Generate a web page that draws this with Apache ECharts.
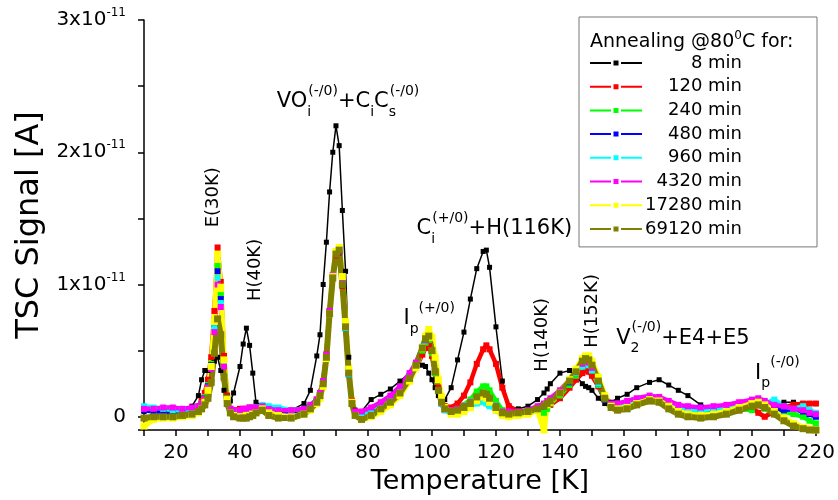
<!DOCTYPE html>
<html><head><meta charset="utf-8">
<script src="https://cdn.jsdelivr.net/npm/echarts@6/dist/echarts.min.js"></script>
<style>html,body{margin:0;padding:0;background:#fff}#c{width:838px;height:500px}</style>
</head><body><div id="c"></div>
<script>
// Temperature grid [K]
const temperatures = [
 10,13,16,19,22,25,27,28,29,30,
 31,32,33,34,35,36,37,38,40,41,
 42,43,44,45,47,49,52,56,60,62,
 64,65,66,67,68,69,70,71,72,73,
 74,75,76,78,81,84,87,90,93,95,
 97,98,99,100,101,102,103,104,106,108,
 110,112,114,116,117,118,120,122,124,127,
 130,133,135,136,137,140,143,145,147,148,
 149,150,152,154,156,158,161,164,168,171,
 174,177,180,184,188,192,196,200,202,204,
 207,210,213,216,218,220];

// TSC signal in units of 1e-12 A (pA)
const s8 = [
 0.4,0.5,0.4,0.5,0.6,0.8,1.6,2.8,3.5,3.5,
 3.6,4.2,4.5,3.5,2.0,1.3,1.2,1.8,3.8,5.5,
 6.7,5.4,3.3,1.1,0.8,0.6,0.6,0.5,1.0,2.0,
 4.6,6.2,10.0,13.2,17.0,20.0,22.0,20.5,15.6,11.0,
 4.5,1.0,0.5,0.4,1.3,1.7,2.1,2.7,3.3,3.7,
 3.9,3.8,3.3,2.8,2.2,1.6,1.3,1.3,2.2,4.3,
 6.4,8.9,11.2,12.5,12.6,11.3,6.8,2.7,0.8,0.6,
 0.8,1.3,1.8,2.1,2.5,3.3,3.5,3.1,2.5,2.3,
 2.2,2.0,1.4,1.0,1.1,1.4,1.7,2.2,2.6,2.8,
 2.4,2.0,1.6,0.9,0.5,0.5,0.6,0.8,0.9,0.9,
 1.0,1.1,1.1,1.0,1.0,1.0];
const s120 = [
 0.5,0.5,0.5,0.5,0.5,0.6,0.8,1.2,1.8,2.8,
 4.5,8.0,12.8,10.2,4.6,1.6,0.6,0.5,0.6,0.6,
 0.6,0.7,0.6,0.6,0.7,0.5,0.3,0.3,0.5,0.8,
 1.3,1.8,2.7,4.7,8.0,10.6,12.2,12.4,9.9,6.8,
 3.4,1.2,0.4,0.3,0.5,0.9,1.4,2.0,2.9,3.7,
 4.7,5.2,5.4,4.6,3.4,2.2,1.3,0.8,0.7,1.0,
 1.6,2.6,4.0,5.1,5.4,5.1,4.0,2.2,0.8,0.4,
 0.4,0.5,0.6,0.8,0.9,1.4,2.2,2.8,3.3,3.5,
 3.4,3.1,2.3,1.3,0.8,0.7,0.8,1.1,1.4,1.3,
 0.9,0.5,0.4,0.3,0.3,0.4,0.5,0.7,0.3,0.0,
 0.4,0.7,0.9,1.0,1.0,1.0];
const s240 = [
 0.6,0.5,0.5,0.4,0.5,0.6,0.7,1.0,1.5,2.4,
 4.0,7.2,11.4,9.2,4.2,1.4,0.5,0.4,0.4,0.4,
 0.5,0.5,0.6,0.6,0.8,0.5,0.3,0.3,0.5,0.8,
 1.2,1.7,2.6,4.6,7.9,10.6,12.3,12.5,10.0,6.8,
 3.3,1.1,0.3,0.2,0.4,0.8,1.3,2.0,3.0,3.9,
 5.0,5.6,5.8,4.8,3.3,2.0,1.1,0.6,0.5,0.6,
 0.9,1.3,1.9,2.3,2.3,2.0,1.2,0.5,0.3,0.3,
 0.4,0.5,0.3,0.6,1.0,1.6,2.4,3.1,3.8,4.0,
 3.9,3.5,2.4,1.3,0.8,0.6,0.8,1.1,1.4,1.3,
 0.9,0.5,0.3,0.2,0.3,0.4,0.6,0.5,1.3,0.6,
 0.5,0.4,0.2,0.0,-0.3,-0.5];
const s480 = [
 0.5,0.4,0.4,0.3,0.4,0.5,0.6,0.9,1.4,2.3,
 3.9,7.0,11.0,8.9,4.0,1.3,0.4,0.3,0.3,0.3,
 0.4,0.4,0.5,0.5,0.8,0.5,0.3,0.3,0.5,0.8,
 1.2,1.7,2.6,4.6,7.9,10.6,12.4,12.5,10.0,6.7,
 3.2,1.0,0.2,0.1,0.4,0.8,1.3,2.0,3.1,4.0,
 5.2,5.8,6.0,5.0,3.4,2.0,1.0,0.5,0.3,0.4,
 0.6,0.8,1.1,1.2,1.1,0.9,0.5,0.3,0.2,0.3,
 0.4,0.6,0.8,1.0,1.2,1.8,2.6,3.3,3.9,4.1,
 4.0,3.6,2.5,1.3,0.8,0.6,0.8,1.1,1.4,1.3,
 0.9,0.5,0.5,0.7,0.5,0.5,0.6,0.8,1.0,0.8,
 0.6,0.5,0.6,0.4,0.2,0.0];
const s960 = [
 0.8,0.7,0.6,0.5,0.5,0.6,0.7,0.9,1.3,2.2,
 3.7,6.7,10.5,8.6,3.9,1.3,0.5,0.4,0.4,0.4,
 0.5,0.6,0.7,0.7,0.9,0.8,0.7,0.5,0.6,0.9,
 1.2,1.7,2.6,4.6,7.9,10.7,12.4,12.6,10.0,6.7,
 3.2,1.0,0.2,0.1,0.4,0.8,1.3,2.0,3.1,4.0,
 5.3,5.9,6.1,5.0,3.4,2.0,1.0,0.5,0.3,0.4,
 0.6,0.8,1.0,1.1,1.0,0.8,0.5,0.3,0.3,0.3,
 0.4,0.6,0.8,1.0,1.2,1.9,2.7,3.3,3.8,4.0,
 3.9,3.5,2.5,1.4,0.9,0.8,1.0,1.3,1.5,1.4,
 1.0,0.7,0.5,0.5,0.6,0.6,0.8,0.9,1.1,1.0,
 1.3,0.8,0.6,0.8,0.5,0.3];
const s4320 = [
 0.6,0.6,0.7,0.7,0.6,0.7,0.8,1.0,1.4,2.2,
 3.6,6.4,10.0,8.3,3.8,1.3,0.6,0.5,0.5,0.6,
 0.6,0.7,0.7,0.7,0.8,0.6,0.5,0.5,0.6,0.9,
 1.3,1.8,2.7,4.7,8.0,10.7,12.4,12.6,10.1,6.8,
 3.3,1.1,0.4,0.4,0.7,1.1,1.6,2.3,3.3,4.1,
 5.2,5.8,6.0,5.0,3.4,2.0,1.1,0.6,0.5,0.6,
 0.8,1.1,1.5,1.8,1.7,1.4,0.8,0.4,0.4,0.4,
 0.5,0.8,1.0,1.2,1.4,2.0,2.8,3.5,4.0,4.2,
 4.1,3.7,2.7,1.5,1.0,1.0,1.2,1.4,1.6,1.5,
 1.2,0.9,0.8,0.7,0.8,0.9,1.1,1.3,1.4,1.2,
 0.9,0.8,0.6,0.5,0.3,0.2];
const s17280 = [
 -0.7,-0.2,-0.1,-0.1,0.0,0.1,0.3,0.6,1.1,2.0,
 3.8,7.2,12.3,9.8,4.3,1.3,0.3,0.1,0.0,0.0,
 0.1,0.1,0.2,0.3,0.6,0.3,0.1,0.0,0.2,0.5,
 1.0,1.4,2.3,4.4,7.8,10.6,12.5,12.8,10.6,7.2,
 3.6,1.1,0.1,-0.2,0.0,0.4,0.9,1.6,2.7,3.7,
 5.2,6.1,6.6,6.0,4.5,2.8,1.5,0.7,0.2,0.2,
 0.4,0.7,1.2,1.5,1.4,1.1,0.5,0.1,0.0,0.1,
 0.2,0.5,-1.0,0.9,1.1,1.8,2.8,3.6,4.4,4.6,
 4.6,4.2,3.0,1.6,0.8,0.6,0.7,1.0,1.3,1.2,
 0.8,0.4,0.2,0.1,0.2,0.4,0.7,1.0,1.1,0.9,
 0.4,-0.1,-0.5,-0.8,-0.9,-1.0];
const s69120 = [
 -0.1,0.0,0.0,0.0,0.1,0.2,0.4,0.6,0.9,1.4,
 2.6,4.8,7.4,6.2,3.0,1.0,0.3,0.0,-0.1,-0.1,
 -0.1,0.0,0.1,0.3,0.5,0.1,-0.1,-0.1,0.2,0.6,
 1.1,1.6,2.5,4.5,7.8,10.5,12.3,12.6,10.0,6.8,
 3.3,1.0,0.1,-0.2,0.1,0.6,1.1,1.8,2.9,3.9,
 5.2,5.9,6.1,5.0,3.4,2.0,1.1,0.6,0.4,0.5,
 0.7,1.0,1.5,1.8,1.7,1.4,0.7,0.3,0.2,0.3,
 0.4,0.6,0.8,1.0,1.2,1.8,2.7,3.4,4.2,4.4,
 4.3,3.9,2.7,1.4,0.7,0.5,0.6,0.9,1.2,1.1,
 0.6,0.2,0.0,-0.1,0.0,0.2,0.5,0.8,0.9,0.7,
 0.2,-0.3,-0.7,-0.9,-1.0,-1.0];

const seriesNames = ['8 min','120 min','240 min','480 min','960 min','4320 min','17280 min','69120 min'];
const seriesValues = [s8, s120, s240, s480, s960, s4320, s17280, s69120];
const seriesColors = ['#000000','#ff0000','#00ff00','#0000ff','#00ffff','#ff00ff','#ffff00','#808000'];
const yTickMantissa = {0:'0', 10:'1', 20:'2', 30:'3'};

const FONT = 'DejaVu Sans';
const chart = echarts.init(document.getElementById('c'));

const lineWidths = [1.5, 4.5, 4.5, 4.5, 4.5, 4.5, 5.5, 6];
const symbolSizes = [5, 6, 6, 6, 6, 6, 7, 7];

const option = {
  animation: false,
  backgroundColor: '#fff',
  grid: {left: 144, right: 20, top: 20, bottom: 67},
  title: {
    text: '{a|Annealing @80}{s|0}{a|C for:}',
    left: 590, top: 30, padding: 0,
    textStyle: {fontWeight: 'normal', rich: {
      a: {fontFamily: FONT, fontSize: 19, fontWeight: 'normal', color: '#000'},
      s: {fontFamily: FONT, fontSize: 12, fontWeight: 'normal', color: '#000', padding: [0, 0, 12, 0]}
    }}
  },
  legend: {
    orient: 'vertical', left: 579, top: 17,
    padding: [37, 75, 9, 11], itemGap: 5.7,
    itemWidth: 52, itemHeight: 5,
    icon: 'path://M0,1.5h21v2h-21z M23.5,0h5v5h-5z M31,1.5h21v2h-21z',
    backgroundColor: '#fff', borderColor: '#777', borderWidth: 1,
    itemStyle: {borderWidth: 0},
    formatter: n => '{r|' + n + '}',
    textStyle: {rich: {r: {fontFamily: FONT, fontSize: 18, color: '#000', width: 95, align: 'right', lineHeight: 17}}},
    selectedMode: false,
    data: seriesNames
  },
  xAxis: {
    type: 'value', min: 10, max: 220, interval: 10,
    axisLine: {onZero: false, lineStyle: {color: '#000', width: 1.5}},
    axisTick: {length: 6, lineStyle: {color: '#000', width: 1.5}},
    axisLabel: {margin: 13, color: '#000', fontFamily: FONT, fontSize: 20,
      formatter: v => (v % 20 === 0 ? String(v) : '')},
    splitLine: {show: false},
    name: 'Temperature [K]', nameLocation: 'middle', nameGap: 38,
    nameTextStyle: {fontFamily: FONT, fontSize: 27, color: '#000'}
  },
  yAxis: {
    type: 'value', min: -1, max: 30, splitNumber: 6,
    axisLine: {show: true, lineStyle: {color: '#000', width: 1.5}},
    axisTick: {show: true, length: 6, lineStyle: {color: '#000', width: 1.5}},
    axisLabel: {margin: 18, color: '#000',
      formatter: v => {
        const m = yTickMantissa[v];
        if (m === undefined) return '';
        return v === 0 ? '{a|0}' : '{a|' + m + 'x10}{s|-11}';
      },
      rich: {
        a: {fontFamily: FONT, fontSize: 20, color: '#000'},
        s: {fontFamily: FONT, fontSize: 12, color: '#000', padding: [0, 0, 14, 0]}
      }
    },
    splitLine: {show: false},
    name: 'TSC Signal [A]', nameLocation: 'middle', nameGap: 98,
    nameTextStyle: {fontFamily: FONT, fontSize: 32, color: '#000'}
  },
  series: seriesNames.map((name, i) => ({
    name, type: 'line',
    data: temperatures.map((t, k) => [t, seriesValues[i][k]]),
    symbol: 'rect',
    symbolSize: symbolSizes[i],
    showAllSymbol: true,
    lineStyle: {color: seriesColors[i], width: lineWidths[i]},
    itemStyle: {color: seriesColors[i], borderWidth: 0},
    silent: true,
    emphasis: {disabled: true}
  }))
};
chart.setOption(option);

// Peak annotations, anchored in data coordinates (T [K], signal [pA])
const M = 21, S = 14;
const annRich = {
  m: {fontFamily: FONT, fontSize: M, color: '#000'},
  r: {fontFamily: FONT, fontSize: 18, color: '#000'},
  b: {fontFamily: FONT, fontSize: S, color: '#000', padding: [20, 0, 0, 0]},
  bz: {fontFamily: FONT, fontSize: S, color: '#000', padding: [20, 0, 0, 0], width: 1},
  p: {fontFamily: FONT, fontSize: S, color: '#000', padding: [0, 0, 22, 0]}
};
const annotations = [
  {T: 51.5, v: 23.8, text: '{m|VO}{bz|i}{p|(-/0)}{m|+C}{b|i}{m|C}{bz|s}{p|(-/0)}', rot: 0, align: 'left'},
  {T: 95.2, v: 14.2, text: '{m|C}{bz|i}{p|(+/0)}{m|+H(116K)}', rot: 0, align: 'left'},
  {T: 91.1, v: 7.4, text: '{m|I}{b|p}{p|(+/0)}', rot: 0, align: 'left'},
  {T: 157.6, v: 5.9, text: '{m|V}{bz|2}{p|(-/0)}{m|+E4+E5}', rot: 0, align: 'left'},
  {T: 201.0, v: 3.3, text: '{m|I}{b|p}{p|(-/0)}', rot: 0, align: 'left'},
  {T: 31.8, v: 16.6, text: '{r|E(30K)}', rot: 90, align: 'center'},
  {T: 44.9, v: 11.1, text: '{r|H(40K)}', rot: 90, align: 'center'},
  {T: 134.5, v: 6.2, text: '{r|H(140K)}', rot: 90, align: 'center'},
  {T: 150.1, v: 8.0, text: '{r|H(152K)}', rot: 90, align: 'center'}
];
chart.setOption({
  graphic: annotations.map(a => {
    const p = chart.convertToPixel({xAxisIndex: 0, yAxisIndex: 0}, [a.T, a.v]);
    return {
      type: 'text', x: p[0], y: p[1], rotation: a.rot * Math.PI / 180, z: 20, silent: true,
      style: {text: a.text, rich: annRich, align: a.align, verticalAlign: 'middle', fill: '#000'}
    };
  })
});
</script></body></html>
